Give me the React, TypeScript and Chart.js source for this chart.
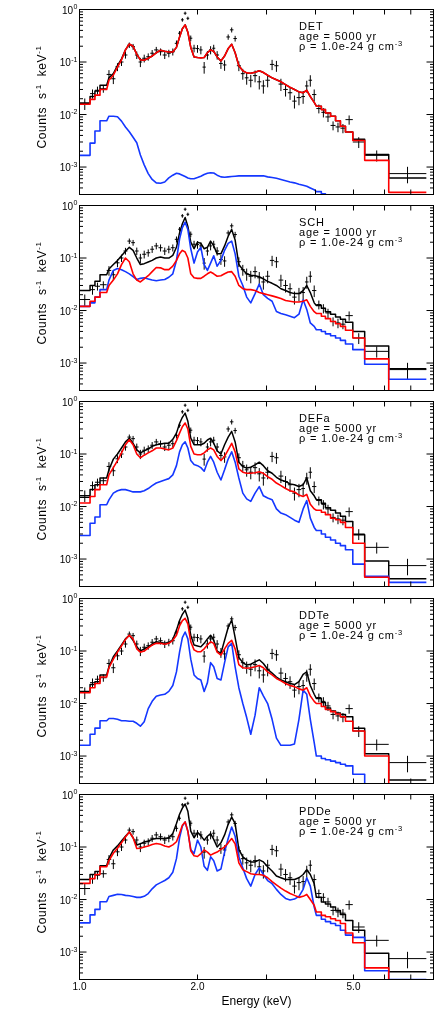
import React, { useEffect, useRef } from 'react';
import { Chart, registerables } from 'chart.js';

Chart.register(...registerables);

// ---------- data ----------
const binEdges = [
  1.0, 1.064, 1.095, 1.128, 1.173, 1.205, 1.235, 1.265, 1.295, 1.325,
  1.355, 1.385, 1.415, 1.445, 1.48, 1.515, 1.55, 1.59, 1.63, 1.67,
  1.71, 1.75, 1.785, 1.815, 1.845, 1.875, 1.905, 1.94, 1.98, 2.02,
  2.06, 2.1, 2.14, 2.18, 2.22, 2.27, 2.32, 2.37, 2.42, 2.47,
  2.52, 2.58, 2.64, 2.7, 2.77, 2.84, 2.91, 2.98, 3.06, 3.14,
  3.22, 3.31, 3.4, 3.49, 3.58, 3.68, 3.76, 3.84, 3.92, 4.02,
  4.14, 4.24, 4.37, 4.5, 4.63, 4.77, 4.98, 5.34, 6.15, 7.67,
];
// bins drawn as visible steps (wide channels) vs. fine channels
const coarseLowCount = 4;
const coarseHighStart = 59;

const dataRate = [
  0.0162, 0.025, 0.029, 0.031, 0.058, 0.048, 0.081, 0.1, 0.136, 0.21,
  0.196, 0.136, 0.1, 0.118, 0.126, 0.147, 0.17, 0.157, 0.136, 0.147,
  0.157, 0.227, 0.353, 0.636, 0.85, 0.68, 0.284, 0.183, 0.18, 0.17,
  0.08, 0.136, 0.17, 0.183, 0.136, 0.094, 0.088, 0.3, 0.41, 0.28,
  0.085, 0.06, 0.05, 0.045, 0.055, 0.042, 0.035, 0.045, 0.09, 0.085,
  0.038, 0.03, 0.026, 0.018, 0.021, 0.022, 0.035, 0.045, 0.024, 0.013,
  0.011, 0.009, 0.0062, 0.0058, 0.0055, 0.008, 0.003, 0.00167, 0.00075,
];
const dataErr = [
  0.004, 0.005, 0.005, 0.005, 0.012, 0.01, 0.014, 0.016, 0.02, 0.025,
  0.025, 0.022, 0.02, 0.02, 0.02, 0.022, 0.024, 0.024, 0.022, 0.024,
  0.024, 0.03, 0.035, 0.05, 0.06, 0.05, 0.035, 0.03, 0.03, 0.03,
  0.02, 0.025, 0.03, 0.03, 0.025, 0.02, 0.02, 0.035, 0.045, 0.035,
  0.018, 0.014, 0.013, 0.012, 0.014, 0.012, 0.01, 0.012, 0.02, 0.02,
  0.01, 0.008, 0.007, 0.005, 0.006, 0.006, 0.009, 0.011, 0.006, 0.0025,
  0.0022, 0.0018, 0.0012, 0.0012, 0.0011, 0.0016, 0.0007, 0.0004, 0.00026,
];

const detBlack = [
  0.0165, 0.022, 0.028, 0.036, 0.05, 0.06, 0.085, 0.115, 0.17, 0.22,
  0.2, 0.14, 0.11, 0.108, 0.118, 0.13, 0.15, 0.168, 0.16, 0.155,
  0.155, 0.19, 0.3, 0.43, 0.51, 0.37, 0.19, 0.125, 0.122, 0.12,
  0.122, 0.15, 0.17, 0.16, 0.125, 0.105, 0.13, 0.18, 0.218, 0.15,
  0.085, 0.068, 0.062, 0.061, 0.064, 0.068, 0.063, 0.056, 0.05, 0.046,
  0.042, 0.037, 0.033, 0.03, 0.027, 0.026, 0.029, 0.022, 0.017, 0.0144,
  0.0124, 0.0107, 0.0093, 0.0076, 0.006, 0.00465, 0.0034, 0.00173, 0.00062,
];
const detRed = [
  0.0157, 0.0194, 0.0234, 0.03, 0.045, 0.056, 0.08, 0.11, 0.17, 0.22,
  0.2, 0.14, 0.11, 0.108, 0.118, 0.13, 0.15, 0.168, 0.16, 0.155,
  0.155, 0.19, 0.3, 0.43, 0.51, 0.37, 0.19, 0.125, 0.122, 0.12,
  0.122, 0.15, 0.17, 0.16, 0.125, 0.105, 0.13, 0.18, 0.218, 0.15,
  0.085, 0.068, 0.062, 0.061, 0.064, 0.068, 0.063, 0.056, 0.05, 0.046,
  0.042, 0.037, 0.033, 0.03, 0.027, 0.026, 0.029, 0.022, 0.017, 0.0144,
  0.0124, 0.0107, 0.0093, 0.0076, 0.006, 0.00465, 0.0032, 0.00134, 0.00033,
];
const detBlue = [
  0.00167, 0.00286, 0.00486, 0.0076, 0.0093, 0.0093, 0.0091, 0.0075, 0.0058, 0.0047,
  0.0037, 0.0029, 0.0017, 0.0011, 0.00075, 0.00058, 0.0005, 0.00049, 0.00052, 0.00062,
  0.0007, 0.00076, 0.00074, 0.0007, 0.00066, 0.00062, 0.0006, 0.0006, 0.00063, 0.00067,
  0.00072, 0.00076, 0.00078, 0.00077, 0.0007, 0.00065, 0.00064, 0.00065, 0.00066, 0.00067,
  0.00068, 0.00068, 0.00068, 0.00068, 0.00068, 0.00068, 0.00068, 0.00065, 0.00063, 0.00061,
  0.00058, 0.00055, 0.00052, 0.0005, 0.00047, 0.00045, 0.00043, 0.0004, 0.00037, 0.00034,
  0.00031, 0.00029, 0.00027, 0.00025, 0.00022, 0.0002, 0.00018, 0.00015, 0.00012,
];

const schBlack = [
  0.024, 0.03, 0.036, 0.048, 0.062, 0.075, 0.09, 0.11, 0.135, 0.16,
  0.14, 0.1, 0.075, 0.078, 0.084, 0.09, 0.1, 0.105, 0.1, 0.1,
  0.112, 0.16, 0.3, 0.45, 0.59, 0.4, 0.2, 0.15, 0.2, 0.19,
  0.15, 0.16, 0.21, 0.17, 0.12, 0.12, 0.17, 0.26, 0.35, 0.22,
  0.075, 0.06, 0.05, 0.047, 0.046, 0.044, 0.04, 0.036, 0.033, 0.03,
  0.026, 0.024, 0.022, 0.021, 0.021, 0.024, 0.03, 0.022, 0.014, 0.0125,
  0.011, 0.0095, 0.0085, 0.0075, 0.0068, 0.006, 0.004, 0.0021, 0.00078,
];
const schRed = [
  0.012, 0.015, 0.018, 0.022, 0.03, 0.038, 0.05, 0.075, 0.1, 0.085,
  0.05, 0.038, 0.035, 0.04, 0.046, 0.055, 0.066, 0.065, 0.06, 0.06,
  0.07, 0.09, 0.12, 0.14, 0.13, 0.1, 0.05, 0.042, 0.041, 0.041,
  0.045, 0.05, 0.054, 0.05, 0.045, 0.046, 0.05, 0.054, 0.055, 0.045,
  0.03, 0.026, 0.025, 0.025, 0.024, 0.022, 0.021, 0.02, 0.019, 0.018,
  0.017, 0.0155, 0.015, 0.0145, 0.0145, 0.015, 0.016, 0.012, 0.0095, 0.0088,
  0.0078, 0.007, 0.0062, 0.0056, 0.005, 0.0042, 0.003, 0.0012, 0.0002,
];
const schBlue = [
  0.012, 0.014, 0.018, 0.025, 0.038, 0.058, 0.063, 0.06, 0.055, 0.05,
  0.044, 0.039, 0.041, 0.042, 0.04, 0.038, 0.037, 0.038, 0.039, 0.043,
  0.05, 0.09, 0.23, 0.38, 0.48, 0.35, 0.15, 0.08, 0.13, 0.16,
  0.075, 0.058, 0.08, 0.11, 0.07, 0.09, 0.14, 0.19, 0.21, 0.12,
  0.045, 0.03, 0.018, 0.014, 0.021, 0.032, 0.02, 0.017, 0.015, 0.0096,
  0.0088, 0.0083, 0.0078, 0.0073, 0.0085, 0.016, 0.0105, 0.0058, 0.005, 0.0043,
  0.004, 0.0036, 0.0033, 0.003, 0.0027, 0.0023, 0.0018, 0.00095, 0.00049,
];

const defBlack = [
  0.015, 0.021, 0.026, 0.035, 0.05, 0.08, 0.1, 0.13, 0.17, 0.2,
  0.16, 0.12, 0.105, 0.115, 0.125, 0.14, 0.15, 0.155, 0.16, 0.16,
  0.19, 0.25, 0.38, 0.5, 0.6, 0.42, 0.2, 0.15, 0.15, 0.15,
  0.16, 0.185, 0.2, 0.16, 0.115, 0.1, 0.15, 0.21, 0.27, 0.17,
  0.07, 0.058, 0.054, 0.056, 0.062, 0.07, 0.06, 0.048, 0.043, 0.036,
  0.032, 0.03, 0.027, 0.026, 0.024, 0.026, 0.035, 0.02, 0.016, 0.0135,
  0.0115, 0.0095, 0.0085, 0.0075, 0.0065, 0.0052, 0.0029, 0.00092, 0.00042,
];
const defRed = [
  0.0117, 0.0155, 0.021, 0.026, 0.04, 0.055, 0.075, 0.105, 0.15, 0.187,
  0.15, 0.1, 0.085, 0.095, 0.105, 0.115, 0.13, 0.13, 0.125, 0.12,
  0.13, 0.18, 0.25, 0.33, 0.39, 0.3, 0.14, 0.1, 0.097, 0.097,
  0.105, 0.12, 0.13, 0.12, 0.09, 0.075, 0.09, 0.12, 0.16, 0.11,
  0.052, 0.045, 0.043, 0.043, 0.044, 0.046, 0.043, 0.037, 0.033, 0.028,
  0.025, 0.022, 0.02, 0.019, 0.0165, 0.0155, 0.017, 0.011, 0.009, 0.0085,
  0.0078, 0.007, 0.006, 0.0056, 0.005, 0.004, 0.002, 0.00045, 0.00006,
];
const defBlue = [
  0.0028, 0.0048, 0.0063, 0.0108, 0.0134, 0.018, 0.02, 0.021, 0.021, 0.02,
  0.019, 0.019, 0.019, 0.02, 0.022, 0.025, 0.028, 0.03, 0.032, 0.034,
  0.04, 0.06, 0.11, 0.15, 0.17, 0.13, 0.075, 0.063, 0.06, 0.055,
  0.047, 0.07, 0.09, 0.07, 0.045, 0.032, 0.05, 0.08, 0.11, 0.07,
  0.035, 0.018, 0.014, 0.0125, 0.018, 0.024, 0.016, 0.0145, 0.0135, 0.009,
  0.0075, 0.007, 0.0062, 0.0055, 0.005, 0.009, 0.013, 0.006, 0.004, 0.0035,
  0.003, 0.0026, 0.0023, 0.002, 0.0018, 0.0015, 0.0008, 0.00047, 0.00036,
];

const ddtBlack = [
  0.017, 0.023, 0.026, 0.035, 0.05, 0.078, 0.1, 0.13, 0.17, 0.2,
  0.16, 0.12, 0.1, 0.11, 0.12, 0.135, 0.15, 0.145, 0.14, 0.145,
  0.165, 0.25, 0.38, 0.5, 0.6, 0.42, 0.2, 0.13, 0.125, 0.12,
  0.14, 0.17, 0.2, 0.16, 0.1, 0.09, 0.16, 0.28, 0.39, 0.18,
  0.075, 0.06, 0.054, 0.056, 0.062, 0.068, 0.058, 0.045, 0.038, 0.032,
  0.028, 0.026, 0.024, 0.023, 0.026, 0.036, 0.04, 0.022, 0.015, 0.0125,
  0.0105, 0.0082, 0.0072, 0.0066, 0.0062, 0.0056, 0.0034, 0.0011, 0.00035,
];
const ddtRed = [
  0.016, 0.02, 0.024, 0.032, 0.048, 0.07, 0.095, 0.125, 0.165, 0.2,
  0.17, 0.11, 0.095, 0.1, 0.115, 0.13, 0.14, 0.14, 0.135, 0.14,
  0.16, 0.2, 0.3, 0.38, 0.42, 0.33, 0.15, 0.105, 0.097, 0.097,
  0.11, 0.13, 0.15, 0.14, 0.095, 0.084, 0.11, 0.14, 0.16, 0.11,
  0.055, 0.048, 0.047, 0.048, 0.05, 0.053, 0.048, 0.04, 0.035, 0.03,
  0.027, 0.024, 0.022, 0.021, 0.019, 0.018, 0.02, 0.014, 0.011, 0.01,
  0.0088, 0.0077, 0.007, 0.0063, 0.0056, 0.0046, 0.003, 0.001, 0.0002,
];
const ddtBlue = [
  0.0016, 0.0026, 0.0034, 0.0047, 0.0052, 0.0052, 0.005, 0.0047, 0.0047, 0.0046,
  0.0046, 0.0042, 0.0037, 0.0045, 0.008, 0.011, 0.0137, 0.0145, 0.015, 0.017,
  0.022, 0.04, 0.095, 0.18, 0.23, 0.17, 0.07, 0.035, 0.03, 0.028,
  0.017, 0.025, 0.06, 0.05, 0.03, 0.028, 0.06, 0.12, 0.14, 0.05,
  0.02, 0.01, 0.0054, 0.0026, 0.006, 0.02, 0.014, 0.01, 0.005, 0.0022,
  0.0016, 0.0016, 0.0016, 0.0017, 0.005, 0.018, 0.015, 0.005, 0.0018, 0.001,
  0.0009, 0.00085, 0.0008, 0.00075, 0.0007, 0.00065, 0.00045, 0.0002, 0.0001,
];

const pddBlack = [
  0.024, 0.03, 0.034, 0.044, 0.061, 0.088, 0.105, 0.13, 0.16, 0.194,
  0.15, 0.109, 0.115, 0.125, 0.13, 0.14, 0.145, 0.145, 0.145, 0.15,
  0.18, 0.28, 0.42, 0.55, 0.66, 0.48, 0.2, 0.15, 0.19, 0.165,
  0.135, 0.16, 0.18, 0.14, 0.1, 0.12, 0.17, 0.27, 0.37, 0.28,
  0.09, 0.065, 0.057, 0.052, 0.052, 0.057, 0.052, 0.042, 0.035, 0.028,
  0.026, 0.024, 0.024, 0.024, 0.026, 0.03, 0.037, 0.03, 0.02, 0.011,
  0.009, 0.0082, 0.0072, 0.0062, 0.0052, 0.004, 0.0026, 0.00095, 0.00042,
];
const pddRed = [
  0.0203, 0.025, 0.03, 0.042, 0.055, 0.076, 0.095, 0.12, 0.155, 0.194,
  0.15, 0.094, 0.095, 0.1, 0.105, 0.112, 0.117, 0.113, 0.105, 0.1,
  0.11, 0.126, 0.18, 0.26, 0.3, 0.2, 0.085, 0.068, 0.066, 0.075,
  0.088, 0.08, 0.07, 0.075, 0.08, 0.09, 0.1, 0.12, 0.145, 0.115,
  0.05, 0.037, 0.034, 0.031, 0.03, 0.03, 0.029, 0.026, 0.022, 0.019,
  0.0165, 0.0145, 0.013, 0.012, 0.011, 0.0115, 0.0125, 0.01, 0.0078, 0.0058,
  0.005, 0.0047, 0.0043, 0.004, 0.0035, 0.0023, 0.0015, 0.0005, 0.0002,
];
const pddBlue = [
  0.0036, 0.0051, 0.0065, 0.0091, 0.0114, 0.012, 0.0126, 0.0125, 0.012, 0.0118,
  0.0114, 0.011, 0.011, 0.0115, 0.013, 0.016, 0.019, 0.021, 0.023, 0.026,
  0.033, 0.06, 0.15, 0.25, 0.3, 0.2, 0.09, 0.075, 0.135, 0.1,
  0.043, 0.036, 0.065, 0.055, 0.035, 0.038, 0.08, 0.145, 0.24, 0.16,
  0.065, 0.04, 0.025, 0.018, 0.03, 0.04, 0.03, 0.023, 0.02, 0.0156,
  0.0125, 0.0105, 0.0098, 0.0102, 0.0115, 0.0156, 0.026, 0.018, 0.0072, 0.005,
  0.0042, 0.0038, 0.0035, 0.0032, 0.0026, 0.0021, 0.0019, 0.00044, 0.0003,
];

const modelNames = ['DET', 'SCH', 'DEFa', 'DDTe', 'PDDe'];
const modelAges = ['5000', '1000', '5000', '5000', '5000'];
const densityLabel = '1.0e-24';
const blackModels = [detBlack, schBlack, defBlack, ddtBlack, pddBlack];
const redModels = [detRed, schRed, defRed, ddtRed, pddRed];
const blueModels = [detBlue, schBlue, defBlue, ddtBlue, pddBlue];

const xTickValues = [2, 3, 4, 5, 6, 7];
const xTickLabels: [number, string][] = [[1, '1.0'], [2, '2.0'], [5, '5.0']];
const yTickExps = [0, -1, -2, -3];

// ---------- layout ----------
const FONT = "'Liberation Sans', Arial, Helvetica, sans-serif";
const X_MIN = 1;
const X_MAX = 8;
const Y_MIN = 3e-4;
const Y_MAX = 1;
const PAGE_W = 443;
const PAGE_H = 1026;
const PANEL_TOPS = [9.5, 205.5, 401.5, 598.5, 794.5];
const PLOT_H = 185;
const PLOT_LEFT = 79.5;
const PLOT_RIGHT = 433.5;
const RED = 'rgb(255,0,0)';
const BLUE = 'rgb(20,55,255)';

// histogram outline: wide channels drawn as flat steps, narrow channels through their centres
function modelPoints(values: number[]) {
  const pts: { x: number; y: number }[] = [];
  values.forEach((v, i) => {
    const lo = binEdges[i];
    const hi = binEdges[i + 1];
    if (i < coarseLowCount || i >= coarseHighStart) {
      pts.push({ x: lo, y: v }, { x: hi, y: v });
    } else {
      pts.push({ x: Math.sqrt(lo * hi), y: v });
    }
  });
  return pts;
}

function errorBarPoints() {
  const pts: { x: number; y: number | null }[] = [];
  dataRate.forEach((v, i) => {
    const lo = binEdges[i];
    const hi = binEdges[i + 1];
    const xc = Math.sqrt(lo * hi);
    const e = dataErr[i];
    pts.push({ x: xc, y: Math.max(v - e, 1e-6) }, { x: xc, y: v + e }, { x: xc, y: null });
    pts.push({ x: lo, y: v }, { x: hi, y: v }, { x: hi, y: null });
  });
  return pts;
}

function drawParts(ctx: CanvasRenderingContext2D, parts: [string, boolean][], x: number, y: number, size: number, supSize: number, rise: number, measureOnly = false) {
  let cx = x;
  for (const [t, sup] of parts) {
    ctx.font = `${sup ? supSize : size}px ${FONT}`;
    if (!measureOnly) ctx.fillText(t, cx, sup ? y - rise : y);
    cx += ctx.measureText(t).width;
  }
  return cx - x;
}

function framePlugin(idx: number, isLast: boolean) {
  return {
    id: 'frame' + idx,
    afterDatasetsDraw(chart: any) {
      const { ctx, chartArea: a } = chart;
      const xs = chart.scales.x;
      const ys = chart.scales.y;
      ctx.save();
      ctx.strokeStyle = '#000';
      ctx.fillStyle = '#000';
      ctx.lineWidth = 1;
      ctx.strokeRect(a.left, a.top, a.right - a.left, a.bottom - a.top);
      ctx.beginPath();
      for (const v of xTickValues) {
        const px = xs.getPixelForValue(v);
        ctx.moveTo(px, a.bottom);
        ctx.lineTo(px, a.bottom - 5);
        ctx.moveTo(px, a.top);
        ctx.lineTo(px, a.top + 5);
      }
      for (let d = -4; d <= 0; d++) {
        for (let m = 1; m < 10; m++) {
          const v = m * Math.pow(10, d);
          if (v < Y_MIN || v > Y_MAX * 1.0001) continue;
          const py = ys.getPixelForValue(v);
          const len = m === 1 ? 7 : 3.5;
          ctx.moveTo(a.left, py);
          ctx.lineTo(a.left + len, py);
          ctx.moveTo(a.right, py);
          ctx.lineTo(a.right - len, py);
        }
      }
      ctx.stroke();

      // y tick labels 10^n
      ctx.textBaseline = 'alphabetic';
      ctx.textAlign = 'right';
      for (const e of yTickExps) {
        const py = ys.getPixelForValue(Math.pow(10, e));
        const es = String(e);
        ctx.font = `7px ${FONT}`;
        const ew = ctx.measureText(es).width;
        ctx.fillText(es, a.left - 2, py - 0.5);
        ctx.font = `10px ${FONT}`;
        ctx.fillText('10', a.left - 2 - ew - 0.5, py + 4);
      }

      // y title
      ctx.textAlign = 'left';
      const titleParts: [string, boolean][] = [['Counts  s', false], ['-1', true], ['  keV', false], ['-1', true]];
      (ctx as any).letterSpacing = '0.6px';
      const tw = drawParts(ctx, titleParts, 0, 0, 12, 8, 4.5, true);
      ctx.save();
      ctx.translate(45.5, a.top + 87.5);
      ctx.rotate(-Math.PI / 2);
      drawParts(ctx, titleParts, -tw / 2, 0, 12, 8, 4.5);
      ctx.restore();

      // annotation
      (ctx as any).letterSpacing = '0.8px';
      const ax = 299;
      ctx.font = `11px ${FONT}`;
      ctx.fillText(modelNames[idx], ax, a.top + 20.5);
      ctx.fillText(`age = ${modelAges[idx]} yr`, ax, a.top + 30.5);
      drawParts(ctx, [['\u03c1 = ' + densityLabel + ' g cm', false], ['-3', true]], ax, a.top + 40.5, 11, 7.5, 4);
      (ctx as any).letterSpacing = '0px';

      if (isLast) {
        ctx.textAlign = 'center';
        ctx.textBaseline = 'middle';
        ctx.font = `10px ${FONT}`;
        for (const [v, t] of xTickLabels) {
          ctx.fillText(t, xs.getPixelForValue(v), a.bottom + 8);
        }
        ctx.font = `12px ${FONT}`;
        ctx.fillText('Energy (keV)', (a.left + a.right) / 2, a.bottom + 22);
      }
      ctx.restore();
    },
  };
}

function Panel({ idx }: { idx: number }) {
  const ref = useRef<HTMLCanvasElement>(null);
  const isLast = idx === modelNames.length - 1;
  const top = PANEL_TOPS[idx];
  const canvasTop = Math.floor(top) - 7;
  const padTop = top - canvasTop;
  const canvasH = isLast ? PAGE_H - canvasTop : 200;
  const xAxisH = canvasH - padTop - PLOT_H;

  useEffect(() => {
    const lineBase = { pointRadius: 0, pointHoverRadius: 0, fill: false, tension: 0, borderJoinStyle: 'round' };
    const chart = new Chart(ref.current as HTMLCanvasElement, {
      type: 'line',
      data: {
        datasets: [
          { ...lineBase, label: 'model', data: modelPoints(blackModels[idx]), borderColor: '#000', borderWidth: 1.5, order: 4 },
          { ...lineBase, label: 'data', data: errorBarPoints(), borderColor: '#000', borderWidth: 1, spanGaps: false, order: 3 },
          { ...lineBase, label: 'blue', data: modelPoints(blueModels[idx]), borderColor: BLUE, borderWidth: 1.6, order: 2 },
          { ...lineBase, label: 'red', data: modelPoints(redModels[idx]), borderColor: RED, borderWidth: 1.6, order: 1 },
        ] as any,
      },
      options: {
        animation: false,
        responsive: false,
        devicePixelRatio: 1,
        events: [],
        layout: { padding: { top: padTop, right: PAGE_W - PLOT_RIGHT, bottom: 0, left: 0 } },
        plugins: { legend: { display: false }, tooltip: { enabled: false }, title: { display: false } },
        scales: {
          x: {
            type: 'logarithmic', min: X_MIN, max: X_MAX, position: 'bottom',
            grid: { display: false, drawTicks: false }, border: { display: false },
            ticks: { display: false },
            afterFit: (s: any) => { s.height = xAxisH; },
          },
          y: {
            type: 'logarithmic', min: Y_MIN, max: Y_MAX, position: 'left',
            grid: { display: false, drawTicks: false }, border: { display: false },
            ticks: { display: false },
            afterFit: (s: any) => { s.width = PLOT_LEFT; },
          },
        },
      } as any,
      plugins: [framePlugin(idx, isLast)],
    });
    return () => chart.destroy();
  }, []);

  return (
    <canvas
      ref={ref}
      width={PAGE_W}
      height={canvasH}
      style={{ position: 'absolute', left: 0, top: canvasTop, width: PAGE_W, height: canvasH }}
    />
  );
}

export default function App() {
  return (
    <div style={{ position: 'absolute', left: 0, top: 0, width: PAGE_W, height: PAGE_H, background: '#fff', overflow: 'hidden' }}>
      {modelNames.map((_, i) => (
        <Panel key={i} idx={i} />
      ))}
    </div>
  );
}
